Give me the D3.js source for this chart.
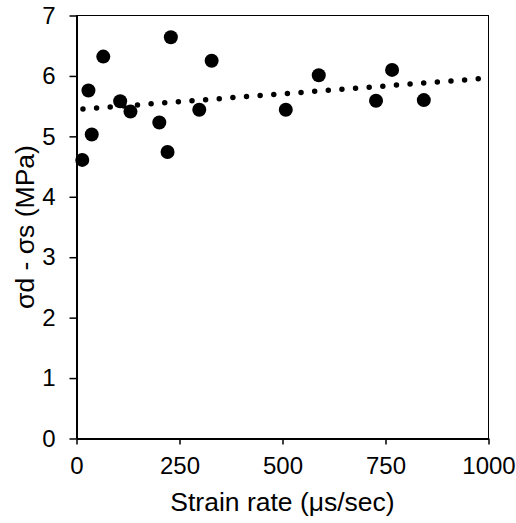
<!DOCTYPE html>
<html>
<head>
<meta charset="utf-8">
<script src="https://cdn.jsdelivr.net/npm/d3@7"></script>
<style>
  body { margin: 0; background: #fff; }
  svg { display: block; font-family: "Liberation Sans", Arial, sans-serif; }
  .tick text { font-size: 24px; fill: #000; }
  .axis-title { font-size: 26.5px; fill: #000; }
</style>
</head>
<body>
<svg id="chart" width="516" height="523"></svg>
<script>
// strain rate (µs/sec)
var strainRate = [14, 29, 37, 65, 106, 131, 201, 221, 229, 298, 328, 508, 588, 727, 766, 843];
// σd - σs (MPa)
var stressDiff = [4.61, 5.76, 5.03, 6.32, 5.58, 5.41, 5.23, 4.74, 6.64, 5.44, 6.25, 5.44, 6.01, 5.59, 6.10, 5.60];
var xTicks = [0, 250, 500, 750, 1000];
var yTicks = [0, 1, 2, 3, 4, 5, 6, 7];

var margin = {top: 15.5, right: 27.5, bottom: 84.5, left: 76.5},
    width = 516 - margin.left - margin.right,
    height = 523 - margin.top - margin.bottom;

var svg = d3.select('#chart');
var g = svg.append('g')
  .attr('transform', 'translate(' + margin.left + ',' + margin.top + ')');

var x = d3.scaleLinear().domain([0, 1000]).range([0, width]);
var y = d3.scaleLinear().domain([0, 7]).range([height, 0]);

// frame (top + right thin)
g.append('rect')
  .attr('width', width).attr('height', height)
  .attr('fill', 'none').attr('stroke', '#000').attr('stroke-width', 1);

var xAxis = g.append('g')
  .attr('transform', 'translate(0,' + height + ')')
  .call(d3.axisBottom(x).tickValues(xTicks).tickFormat(d3.format('d'))
    .tickSizeInner(6).tickSizeOuter(0).tickPadding(12));
var yAxis = g.append('g')
  .call(d3.axisLeft(y).tickValues(yTicks).tickFormat(d3.format('d'))
    .tickSizeInner(7).tickSizeOuter(0).tickPadding(14));

[xAxis, yAxis].forEach(function(a){
  a.select('.domain').attr('stroke', '#000').attr('stroke-width', 2);
  a.selectAll('.tick line').attr('stroke', '#000').attr('stroke-width', 1.5);
  a.attr('font-family', null).attr('font-size', null);
});

// least squares trendline
var mx = d3.mean(strainRate), my = d3.mean(stressDiff);
var sxy = d3.sum(strainRate, function(d, i){ return (d - mx) * (stressDiff[i] - my); });
var sxx = d3.sum(strainRate, function(d){ return (d - mx) * (d - mx); });
var slope = sxy / sxx, intercept = my - slope * mx;

var trend = [0, 1000].map(function(v){ return [v, intercept + slope * v]; });
g.append('path')
  .attr('d', d3.line().x(function(d){ return x(d[0]); }).y(function(d){ return y(d[1]); })(trend))
  .attr('fill', 'none')
  .attr('stroke', '#000')
  .attr('stroke-width', 5.5)
  .attr('stroke-linecap', 'round')
  .attr('stroke-dasharray', '0 13.67')
  .attr('stroke-dashoffset', 7.2);

g.append('g').selectAll('circle')
  .data(strainRate)
  .enter().append('circle')
    .attr('cx', function(d){ return x(d); })
    .attr('cy', function(d, i){ return y(stressDiff[i]); })
    .attr('r', 7)
    .attr('fill', '#000');

svg.append('text')
  .attr('class', 'axis-title')
  .attr('x', margin.left + width / 2)
  .attr('y', 511)
  .attr('text-anchor', 'middle')
  .text('Strain rate (μs/sec)');

svg.append('text')
  .attr('class', 'axis-title')
  .attr('transform', 'translate(34,' + (margin.top + height / 2) + ') rotate(-90)')
  .attr('text-anchor', 'middle')
  .text('σd - σs (MPa)');
</script>
</body>
</html>
